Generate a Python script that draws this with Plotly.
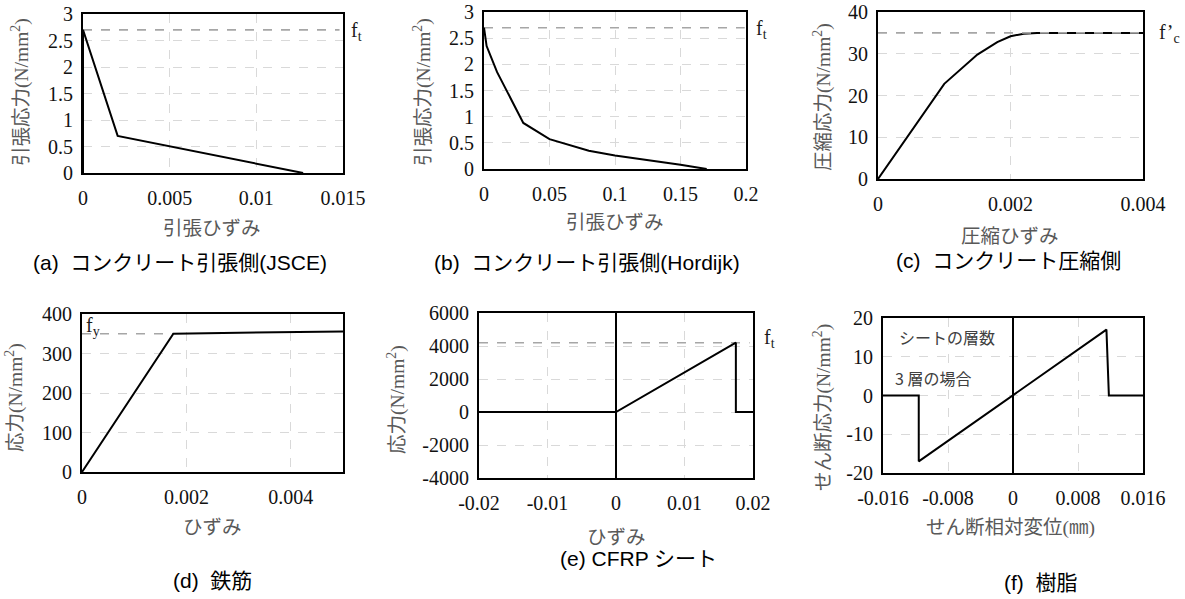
import plotly.graph_objects as go

W, H = 1185, 599

# ---------------- data ----------------
a_x = [0, 0, 0.002, 0.0127]
a_y = [0, 2.7, 0.7, 0]
b_x = [0, 0.002, 0.01, 0.03, 0.05, 0.08, 0.1, 0.13, 0.15, 0.17]
b_y = [2.7, 2.35, 1.85, 0.88, 0.57, 0.35, 0.26, 0.16, 0.08, 0]
c_x = [0, 0.0005, 0.001, 0.0015, 0.0018, 0.002, 0.0022, 0.0024, 0.004]
c_y = [0, 11.5, 22.8, 29.8, 32.8, 34.2, 34.8, 35, 35]
d_x = [0, 0.00175, 0.005]
d_y = [0, 350, 356]
e_x = [-0.02, 0, 0.0175, 0.0175, 0.02]
e_y = [0, 0, 4200, 0, 0]
f_x = [-0.016, -0.0116, -0.0116, 0.0115, 0.0118, 0.016]
f_y = [0, 0, -17, 17, 0, 0]

# reference (strength) levels
ft_a, ft_b, fc_c, fy_d, ft_e = 2.7, 2.7, 35, 350, 4200

# ticks
a_xt = [0, 0.005, 0.01, 0.015]; a_xl = ["0", "0.005", "0.01", "0.015"]
a_yt = [0, 0.5, 1, 1.5, 2, 2.5, 3]; a_yl = ["0", "0.5", "1", "1.5", "2", "2.5", "3"]
b_xt = [0, 0.05, 0.1, 0.15, 0.2]; b_xl = ["0", "0.05", "0.1", "0.15", "0.2"]
b_yt = a_yt; b_yl = a_yl
c_xt = [0, 0.002, 0.004]; c_xl = ["0", "0.002", "0.004"]
c_yt = [0, 10, 20, 30, 40]; c_yl = ["0", "10", "20", "30", "40"]
d_xt = [0, 0.002, 0.004]; d_xl = ["0", "0.002", "0.004"]
d_yt = [0, 100, 200, 300, 400]; d_yl = ["0", "100", "200", "300", "400"]
e_xt = [-0.02, -0.01, 0, 0.01, 0.02]; e_xl = ["-0.02", "-0.01", "0", "0.01", "0.02"]
e_yt = [-4000, -2000, 0, 2000, 4000, 6000]; e_yl = ["-4000", "-2000", "0", "2000", "4000", "6000"]
f_xt = [-0.016, -0.008, 0, 0.008, 0.016]; f_xl = ["-0.016", "-0.008", "0", "0.008", "0.016"]
f_yt = [-20, -10, 0, 10, 20]; f_yl = ["-20", "-10", "0", "10", "20"]

captions = ["(a)  コンクリート引張側(JSCE)", "(b)  コンクリート引張側(Hordijk)",
            "(c)  コンクリート圧縮側", "(d)  鉄筋", "(e) CFRP シート", "(f)  樹脂"]
xtitles = ["引張ひずみ", "引張ひずみ", "圧縮ひずみ", "ひずみ", "ひずみ", "せん断相対変位(㎜)"]
ytitles = ["引張応力(N/mm<sup>2</sup>)", "引張応力(N/mm<sup>2</sup>)", "圧縮応力(N/mm<sup>2</sup>)",
           "応力(N/mm<sup>2</sup>)", "応力(N/mm<sup>2</sup>)", "せん断応力(N/mm<sup>2</sup>)"]

# ---------------- layout geometry (pixels) ----------------
boxes = [  # x0, x1, y0(top), y1(bottom)
    (83, 343, 14, 173),
    (484, 746, 12, 169),
    (878, 1143, 12, 179),
    (82, 343, 314, 472),
    (479, 753, 313, 478),
    (883, 1143, 318, 473),
]
ranges = [
    ([0, 0.015], [0, 3]),
    ([0, 0.2], [0, 3]),
    ([0, 0.004], [0, 40]),
    ([0, 0.005], [0, 400]),
    ([-0.02, 0.02], [-4000, 6000]),
    ([-0.016, 0.016], [-20, 20]),
]
ticks = [
    (a_xt, a_xl, a_yt, a_yl), (b_xt, b_xl, b_yt, b_yl), (c_xt, c_xl, c_yt, c_yl),
    (d_xt, d_xl, d_yt, d_yl), (e_xt, e_xl, e_yt, e_yl), (f_xt, f_xl, f_yt, f_yl),
]
series = [(a_x, a_y), (b_x, b_y), (c_x, c_y), (d_x, d_y), (e_x, e_y), (f_x, f_y)]
zero_vline = [False, False, False, False, True, True]

SERIF = "'Liberation Serif', 'Times New Roman', serif"
JP = "'Liberation Serif', 'Noto Sans CJK JP', serif"
GOTH = "'Liberation Sans', Arial, 'Noto Sans CJK JP', sans-serif"
GRID = "#d9d9d9"
REFC = "#a6a6a6"
TICKFONT = dict(family=SERIF, size=20, color="#111111")

fig = go.Figure()
layout = dict(width=W, height=H, autosize=False, margin=dict(l=0, r=0, t=0, b=0, pad=0),
              paper_bgcolor="white", plot_bgcolor="white", showlegend=False,
              font=dict(family=SERIF, size=20, color="#111111"))

for i in range(6):
    n = "" if i == 0 else str(i + 1)
    x0, x1, y0, y1 = boxes[i]
    xr, yr = ranges[i]
    xt, xl, yt, yl = ticks[i]
    layout["xaxis" + n] = dict(
        domain=[x0 / W, x1 / W], anchor="y" + n, range=xr, tickvals=xt, ticktext=xl,
        showgrid=True, gridcolor=GRID, griddash="dash", gridwidth=1.2,
        showline=True, linecolor="black", linewidth=2, mirror=True,
        zeroline=zero_vline[i], zerolinecolor="black", zerolinewidth=1.6,
        ticks="", ticklabelstandoff=6, automargin=False, ticklabeloverflow="allow",
        tickfont=TICKFONT, fixedrange=True)
    layout["yaxis" + n] = dict(
        domain=[1 - y1 / H, 1 - y0 / H], anchor="x" + n, range=yr, tickvals=yt, ticktext=yl,
        showgrid=True, gridcolor=GRID, griddash="dash", gridwidth=1.2,
        showline=True, linecolor="black", linewidth=2, mirror=True,
        zeroline=False, ticks="", ticklabelstandoff=4, automargin=False,
        ticklabeloverflow="allow", tickfont=TICKFONT, fixedrange=True)

# reference dashed lines
refs = [
    (0, [0, 0.0148], [ft_a, ft_a]),
    (1, [0, 0.199], [ft_b, ft_b]),
    (3, [0, d_x[1]], [fy_d, fy_d]),
    (4, [-0.02, 0.0195], [ft_e, ft_e]),
]
for i, xs, ys in refs:
    n = "" if i == 0 else str(i + 1)
    fig.add_trace(go.Scatter(x=xs, y=ys, mode="lines", xaxis="x" + n, yaxis="y" + n,
                             line=dict(color=REFC, width=1.6, dash="dash"),
                             cliponaxis=False, hoverinfo="skip"))

for i, (xs, ys) in enumerate(series):
    n = "" if i == 0 else str(i + 1)
    fig.add_trace(go.Scatter(x=xs, y=ys, mode="lines", xaxis="x" + n, yaxis="y" + n,
                             line=dict(color="black", width=2), cliponaxis=False))

# f'c line drawn over the compression curve (as in the reference)
fig.add_trace(go.Scatter(x=[0, 0.0041], y=[fc_c, fc_c], mode="lines", xaxis="x3", yaxis="y3",
                         line=dict(color=REFC, width=1.8, dash="dash"),
                         cliponaxis=False, hoverinfo="skip"))

ann = []
def A(x, y, text, font, angle=0, xanchor="center", yanchor="middle"):
    ann.append(dict(x=x / W, y=1 - y / H, xref="paper", yref="paper", text=text,
                    showarrow=False, font=font, textangle=angle,
                    xanchor=xanchor, yanchor=yanchor))

cap_pos = [(180, 262), (587, 262), (1009, 260), (212, 580), (638, 558), (1041, 582)]
xt_pos = [(212, 228), (615, 222), (1010, 237), (212, 527), (616, 537), (1010, 528)]
yt_pos = [(20, 92), (422, 92), (822, 97), (14, 398), (396, 400), (822, 408)]
for i in range(6):
    A(*cap_pos[i], captions[i], dict(family=GOTH, size=21, color="black"))
    A(*xt_pos[i], xtitles[i], dict(family=JP, size=19.5, color="#595959"))
    A(*yt_pos[i], ytitles[i], dict(family=JP, size=19.5, color="#595959"), angle=-90)

lab = dict(family=SERIF, size=20, color="#1a1a1a")
A(349, 31, "f<sub>t</sub>", lab, xanchor="left")
A(754, 29, "f<sub>t</sub>", lab, xanchor="left")
A(1157, 33, "f’<sub>c</sub>", lab, xanchor="left")
A(84, 326, "f<sub>y</sub>", lab, xanchor="left")
A(762, 338, "f<sub>t</sub>", lab, xanchor="left")

note = dict(family="'Noto Sans CJK JP', sans-serif", size=16, color="#404040")
A(897, 337, "シートの層数", note, xanchor="left")
A(893, 378, "3 層の場合", note, xanchor="left")

layout["annotations"] = ann
fig.update_layout(**layout)
fig.write_html("out.html")
